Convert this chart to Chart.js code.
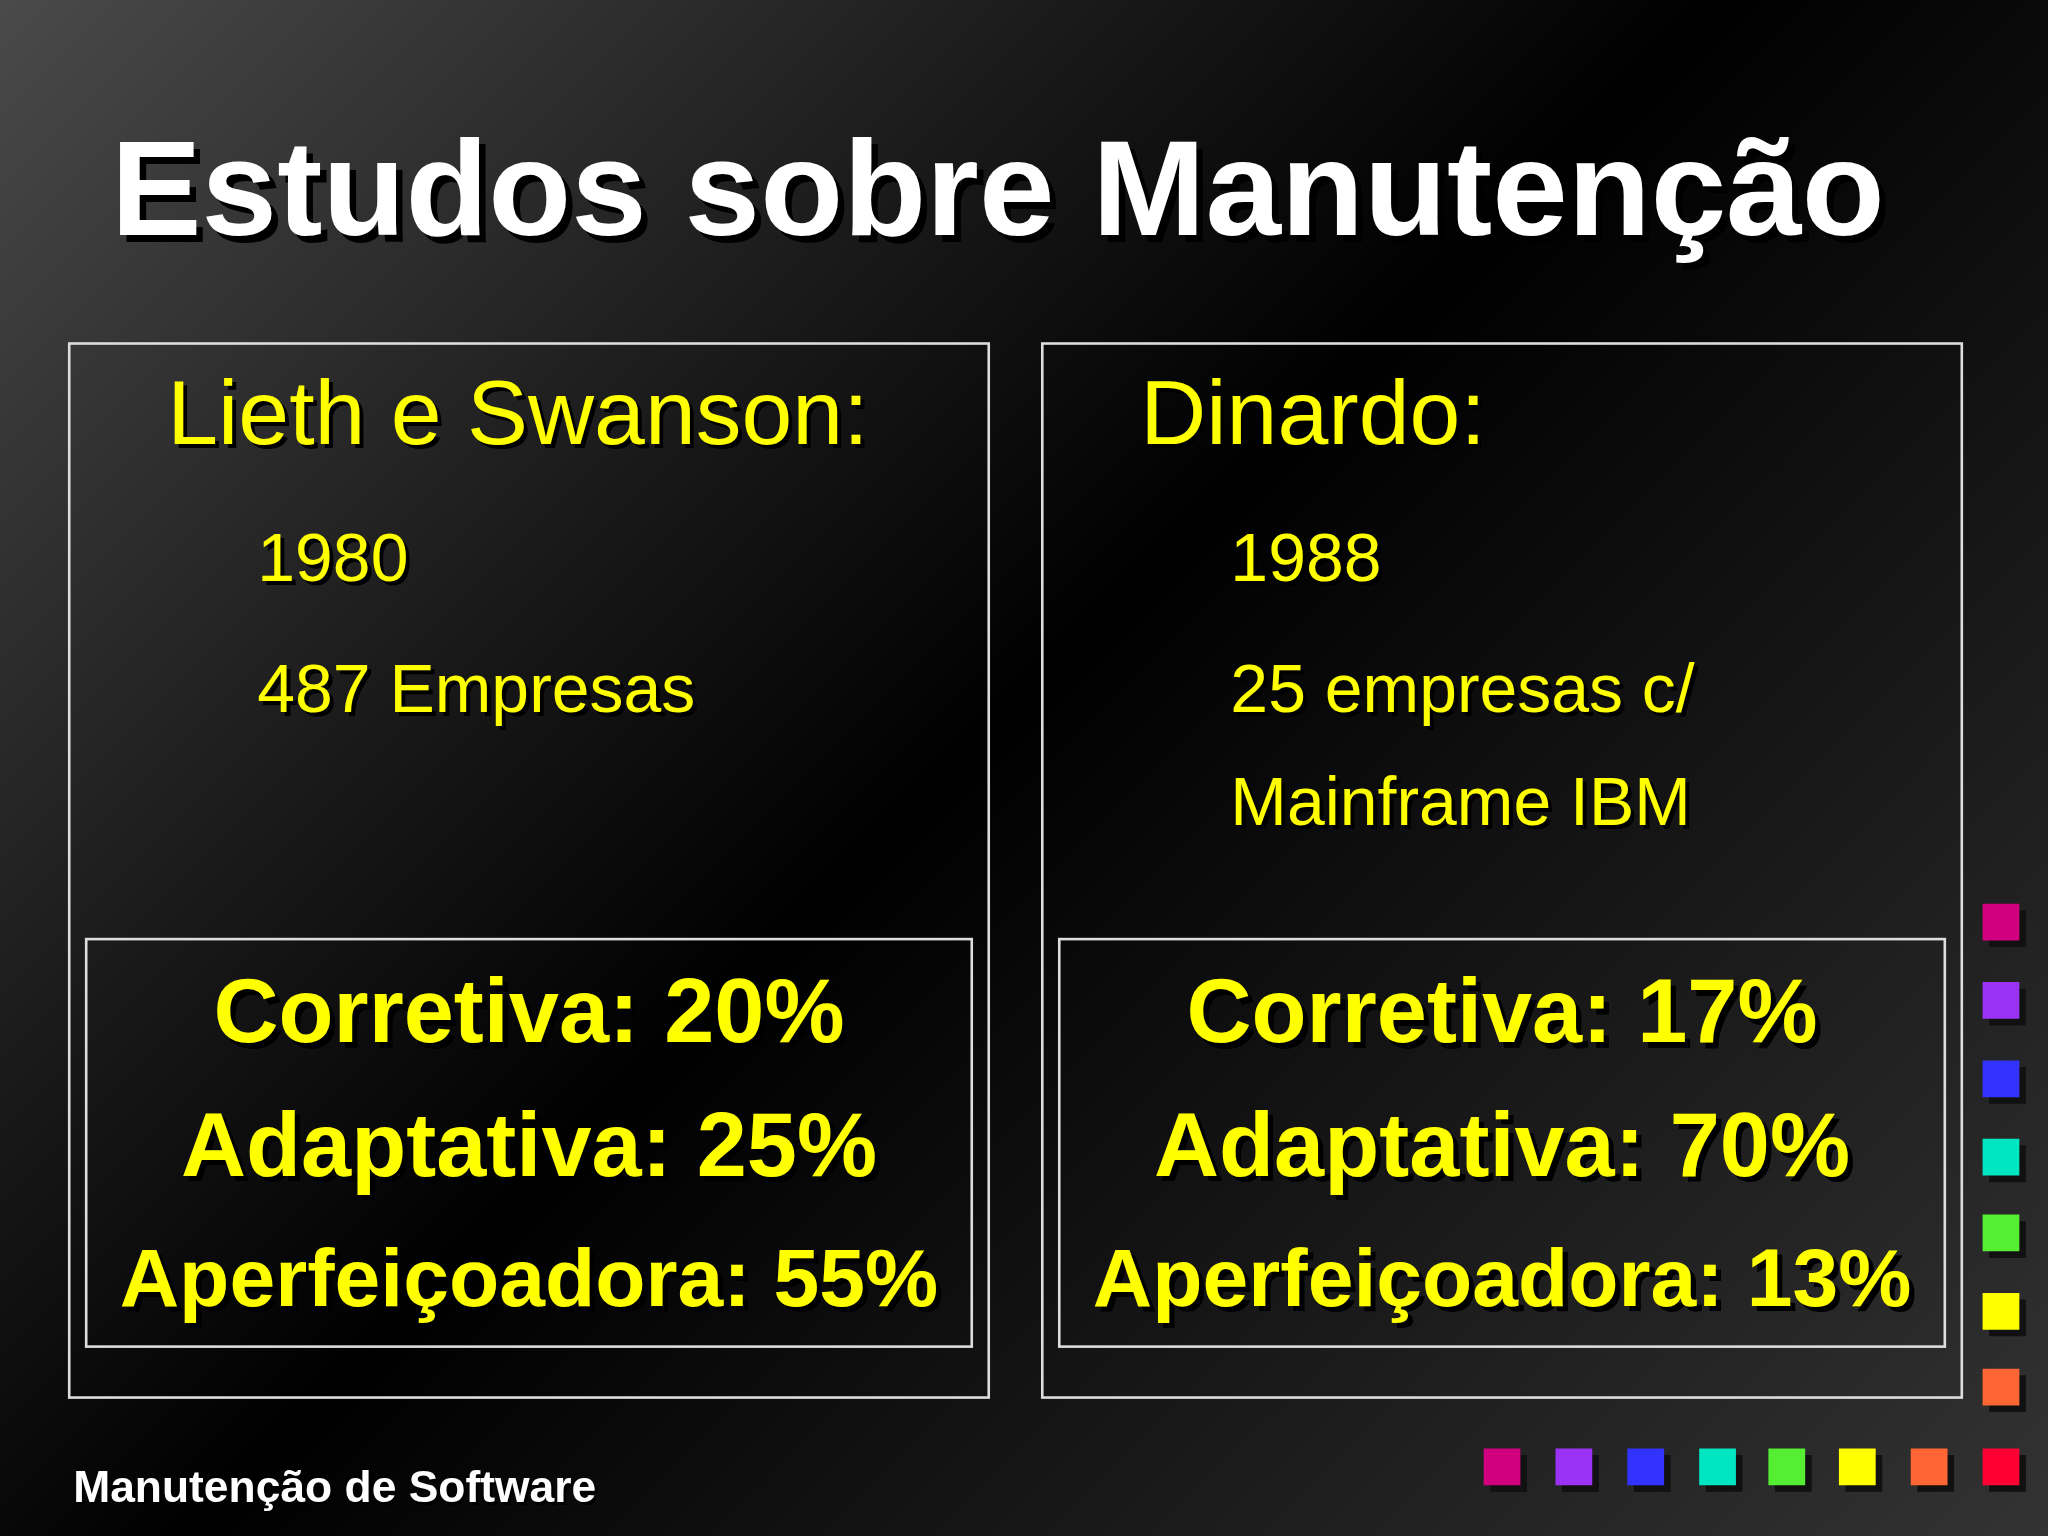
<!DOCTYPE html>
<html>
<head>
<meta charset="utf-8">
<script src="https://cdn.jsdelivr.net/npm/chart.js@4/dist/chart.umd.min.js"></script>
<style>
html, body { margin: 0; padding: 0; }
body {
	width: 2048px; height: 1536px; overflow: hidden;
	background: linear-gradient(135deg, #4a4a4a 0%, #1a1a1a 30%, #000 48%, #0c0c0c 60%, #333 100%);
}
#slide { display: block; }
</style>
</head>
<body>
<canvas id="slide" width="2048" height="1536"></canvas>
<script>
// Slide data
var title = "Estudos sobre Manutenção";
var footer = "Manutenção de Software";
var studies = ["Lieth e Swanson:", "Dinardo:"];
var study_details = [["1980", "487 Empresas"], ["1988", "25 empresas c/", "Mainframe IBM"]];
var categories = ["Corretiva", "Adaptativa", "Aperfeiçoadora"];
var values_lieth = [20, 25, 55];
var values_dinardo = [17, 70, 13];

// Decorative squares (design units, 1568 x 1176 slide)
var square_colors = ["#d1007f", "#9b33f5", "#3333ff", "#00e6c3", "#55ee33", "#ffff00", "#ff6633", "#ff0033"];
var row_x = [1150, 1205, 1260, 1315, 1368, 1422, 1477, 1532];
var col_y = [706, 766, 826, 886, 944, 1004, 1062];

var S = 2048 / 1568;

var square_points = [], shadow_points = [], point_colors = [];
for (var i = 0; i < row_x.length; i++) {
	square_points.push({ x: row_x[i], y: 1123 });
	point_colors.push(square_colors[i]);
}
for (var i = 0; i < col_y.length; i++) {
	square_points.push({ x: 1532, y: col_y[i] });
	point_colors.push(square_colors[i]);
}
for (var i = 0; i < square_points.length; i++) {
	shadow_points.push({ x: square_points[i].x + 5, y: square_points[i].y + 5 });
}

function shadowText(ctx, text, x, y, color, off) {
	ctx.fillStyle = "#000";
	ctx.fillText(text, x + off, y + off);
	ctx.fillStyle = color;
	ctx.fillText(text, x, y);
}

var slidePlugin = {
	id: "slideText",
	afterDatasetsDraw: function(chart) {
		var ctx = chart.ctx;
		ctx.save();
		ctx.scale(S, S);
		ctx.textBaseline = "alphabetic";
		ctx.textAlign = "left";

		ctx.font = "bold 104px 'Liberation Sans', Arial, sans-serif";
		shadowText(ctx, title, 85, 180, "#fff", 5);

		ctx.strokeStyle = "#ddd";
		ctx.lineWidth = 2;
		var lefts = [53, 798];
		for (var k = 0; k < 2; k++) {
			var L = lefts[k];
			ctx.strokeRect(L, 263, 704, 807);
			ctx.strokeRect(L + 13, 719, 678, 312);

			ctx.textAlign = "left";
			ctx.font = "70px 'Liberation Sans', Arial, sans-serif";
			shadowText(ctx, studies[k], L + 75, 340, "#ffff00", 3);
			ctx.font = "52px 'Liberation Sans', Arial, sans-serif";
			var ys = [445, 545, 632];
			for (var j = 0; j < study_details[k].length; j++) {
				shadowText(ctx, study_details[k][j], L + 144, ys[j], "#ffff00", 3);
			}

			var vals = k === 0 ? values_lieth : values_dinardo;
			ctx.textAlign = "center";
			var by = [798, 900, 1000];
			for (var j = 0; j < categories.length; j++) {
				ctx.font = "bold " + (j === 2 ? 63 : 69) + "px 'Liberation Sans', Arial, sans-serif";
				shadowText(ctx, categories[j] + ": " + vals[j] + "%", L + 352, by[j], "#ffff00", 4);
			}
		}

		ctx.textAlign = "left";
		ctx.font = "bold 34px 'Liberation Sans', Arial, sans-serif";
		shadowText(ctx, footer, 56, 1150, "#fff", 2);
		ctx.restore();
	}
};

new Chart(document.getElementById("slide"), {
	type: "scatter",
	data: {
		datasets: [{
			data: square_points,
			pointStyle: "rect",
			pointRadius: 26,
			backgroundColor: point_colors,
			borderWidth: 0
		}, {
			data: shadow_points,
			pointStyle: "rect",
			pointRadius: 26,
			backgroundColor: "#111",
			borderWidth: 0
		}]
	},
	options: {
		responsive: false,
		animation: false,
		devicePixelRatio: 1,
		layout: { padding: 0, autoPadding: false },
		plugins: { legend: { display: false }, tooltip: { enabled: false } },
		scales: {
			x: { type: "linear", min: 0, max: 1568, display: false },
			y: { type: "linear", min: 0, max: 1176, reverse: true, display: false }
		}
	},
	plugins: [slidePlugin]
});
</script>
</body>
</html>
